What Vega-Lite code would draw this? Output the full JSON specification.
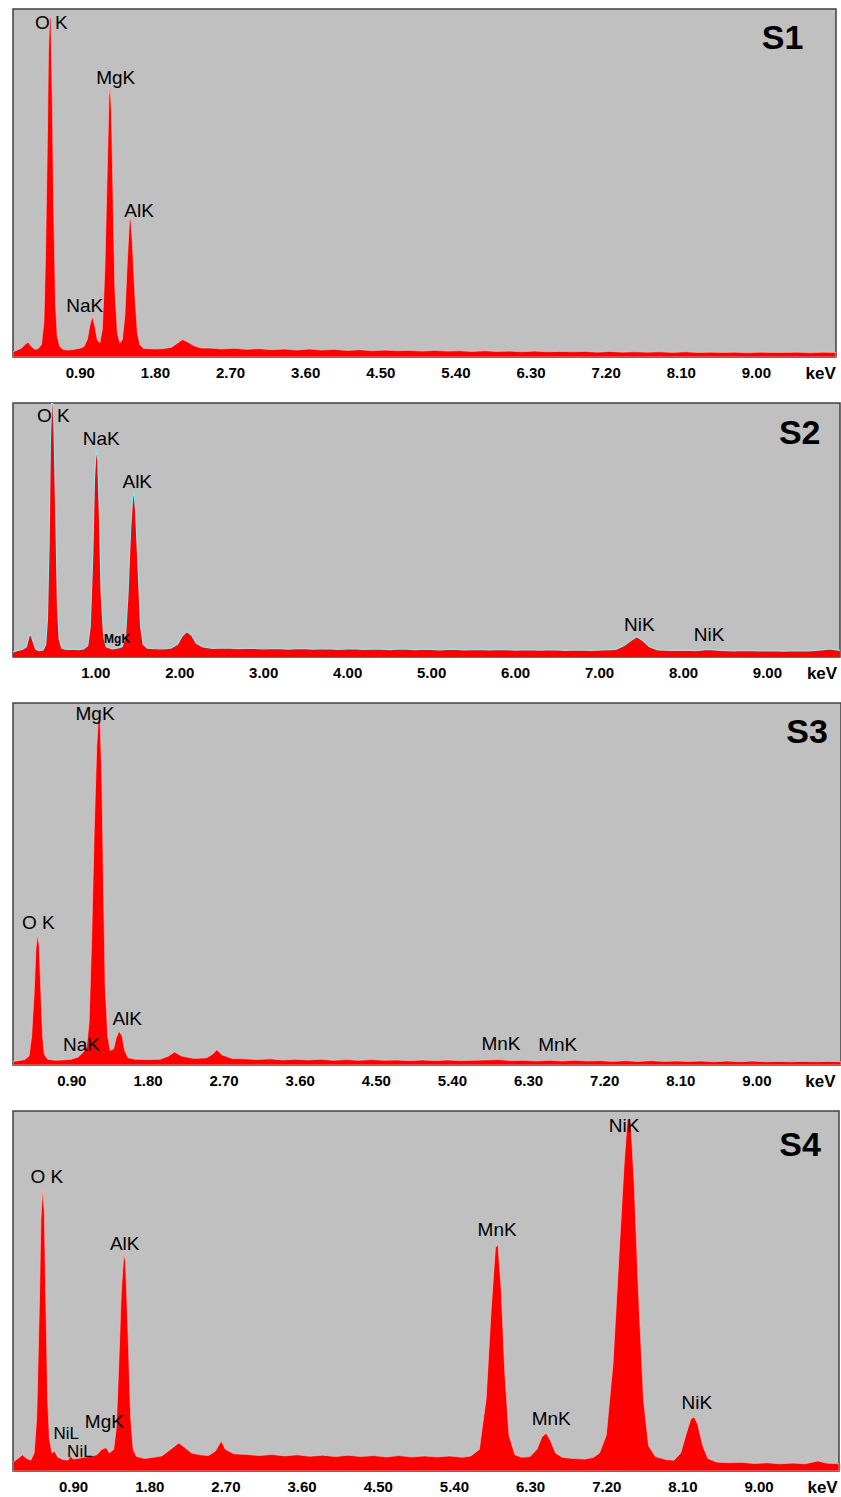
{
  "$schema": "https://vega.github.io/schema/vega-lite/v6.json",
  "background": "white",
  "padding": {"left": 12, "top": 8, "right": 0, "bottom": 0},
  "spacing": 20,
  "config": {
    "view": {"fill": "#c0c0c0", "stroke": "#404040", "strokeWidth": 1.5},
    "axis": {"labelFont": "Liberation Sans", "labelFontSize": 15, "labelFontWeight": "bold", "labelColor": "#000000", "ticks": false, "domain": false, "grid": false, "labelPadding": 8, "labelOverlap": false, "labelFlush": false, "title": null},
    "text": {"font": "Liberation Sans", "fontSize": 19, "color": "#000000", "align": "center", "baseline": "middle"}
  },
  "vconcat": [
    {
      "width": 823, "height": 348,
      "layer": [
        {
          "data": {"values": [
            {"keV":0.1,"counts":1.5},{"keV":0.15,"counts":2.0},{"keV":0.2,"counts":2.5},{"keV":0.24,"counts":3.5},{"keV":0.28,"counts":4.3},{"keV":0.32,"counts":3.0},{"keV":0.36,"counts":2.2},{"keV":0.4,"counts":2.4},{"keV":0.44,"counts":3.5},{"keV":0.47,"counts":10},{"keV":0.49,"counts":30},{"keV":0.51,"counts":60},{"keV":0.525,"counts":88},{"keV":0.54,"counts":98},{"keV":0.555,"counts":97},{"keV":0.57,"counts":75},{"keV":0.59,"counts":40},{"keV":0.61,"counts":15},{"keV":0.63,"counts":6},{"keV":0.66,"counts":3},{"keV":0.7,"counts":2.2},{"keV":0.75,"counts":2.0},{"keV":0.8,"counts":2.1},{"keV":0.85,"counts":2.3},{"keV":0.9,"counts":2.5},{"keV":0.95,"counts":3.0},{"keV":0.99,"counts":5},{"keV":1.02,"counts":9},{"keV":1.05,"counts":11.7},{"keV":1.08,"counts":9},{"keV":1.11,"counts":5},{"keV":1.14,"counts":4},{"keV":1.17,"counts":8},{"keV":1.2,"counts":25},{"keV":1.23,"counts":55},{"keV":1.25,"counts":75},{"keV":1.265,"counts":77.7},{"keV":1.28,"counts":70},{"keV":1.3,"counts":45},{"keV":1.32,"counts":20},{"keV":1.35,"counts":7},{"keV":1.38,"counts":4},{"keV":1.41,"counts":5},{"keV":1.44,"counts":12},{"keV":1.47,"counts":28},{"keV":1.495,"counts":39},{"keV":1.51,"counts":40},{"keV":1.53,"counts":33},{"keV":1.56,"counts":18},{"keV":1.59,"counts":7},{"keV":1.62,"counts":3.5},{"keV":1.66,"counts":2.5},{"keV":1.7,"counts":2.4},{"keV":1.8,"counts":2.3},{"keV":1.9,"counts":2.4},{"keV":2.0,"counts":2.8},{"keV":2.06,"counts":3.8},{"keV":2.13,"counts":5.0},{"keV":2.2,"counts":4.2},{"keV":2.27,"counts":3.2},{"keV":2.35,"counts":2.6},
            {"keV":2.45,"counts":2.6},{"keV":2.6,"counts":2.3},{"keV":2.75,"counts":2.5},{"keV":2.9,"counts":2.2},{"keV":3.05,"counts":2.4},{"keV":3.2,"counts":2.1},{"keV":3.35,"counts":2.3},{"keV":3.5,"counts":2.0},{"keV":3.65,"counts":2.3},{"keV":3.8,"counts":2.0},{"keV":3.95,"counts":2.2},{"keV":4.1,"counts":1.9},{"keV":4.25,"counts":2.1},{"keV":4.4,"counts":1.8},{"keV":4.55,"counts":2.0},{"keV":4.7,"counts":1.8},{"keV":4.85,"counts":1.9},{"keV":5.0,"counts":1.7},{"keV":5.15,"counts":1.9},{"keV":5.3,"counts":1.7},{"keV":5.45,"counts":1.8},{"keV":5.6,"counts":1.6},{"keV":5.75,"counts":1.8},{"keV":5.9,"counts":1.6},{"keV":6.05,"counts":1.7},{"keV":6.2,"counts":1.5},{"keV":6.35,"counts":1.7},{"keV":6.5,"counts":1.5},{"keV":6.65,"counts":1.6},{"keV":6.8,"counts":1.5},{"keV":6.95,"counts":1.6},{"keV":7.1,"counts":1.4},{"keV":7.25,"counts":1.6},{"keV":7.4,"counts":1.4},{"keV":7.55,"counts":1.5},{"keV":7.7,"counts":1.4},{"keV":7.85,"counts":1.5},{"keV":8.0,"counts":1.3},{"keV":8.15,"counts":1.5},{"keV":8.3,"counts":1.3},{"keV":8.45,"counts":1.4},{"keV":8.6,"counts":1.3},{"keV":8.75,"counts":1.4},{"keV":8.9,"counts":1.2},{"keV":9.05,"counts":1.4},{"keV":9.2,"counts":1.3},{"keV":9.35,"counts":1.3},{"keV":9.5,"counts":1.4},{"keV":9.65,"counts":1.2},{"keV":9.8,"counts":1.4},{"keV":9.96,"counts":1.3}
          ]},
          "mark": {"type": "area", "color": "#ff0000", "stroke": "#ffb8b8", "strokeWidth": 0.7, "clip": true},
          "encoding": {
            "x": {"field": "keV", "type": "quantitative", "scale": {"domain": [0.1, 9.96], "nice": false, "zero": false},
                  "axis": {"values": [0.9, 1.8, 2.7, 3.6, 4.5, 5.4, 6.3, 7.2, 8.1, 9.0, 9.77], "labelExpr": "datum.value > 9.5 ? 'keV' : format(datum.value, '.2f')", "labelFontSize": {"condition": {"test": "datum.value > 9.5", "value": 17}, "value": 15}}},
            "y": {"field": "counts", "type": "quantitative", "scale": {"domain": [0, 100]}, "axis": null}
          }
        },
        {
          "data": {"values": [
            {"keV":0.56,"counts":96,"label":"O K"},{"keV":1.33,"counts":80.3,"label":"MgK"},{"keV":1.61,"counts":42,"label":"AlK"},{"keV":0.96,"counts":14.6,"label":"NaK"}
          ]},
          "mark": {"type": "text"},
          "encoding": {"x": {"field": "keV", "type": "quantitative"}, "y": {"field": "counts", "type": "quantitative"}, "text": {"field": "label"}}
        },
        {
          "data": {"values": [{"keV": 9.32, "counts": 91.4, "label": "S1"}]},
          "mark": {"type": "text", "fontSize": 34, "fontWeight": "bold"},
          "encoding": {"x": {"field": "keV", "type": "quantitative"}, "y": {"field": "counts", "type": "quantitative"}, "text": {"field": "label"}}
        }
      ]
    },
    {
      "width": 827, "height": 254,
      "layer": [
        {
          "data": {"values": [
            {"keV":0.02,"counts":2.0},{"keV":0.08,"counts":2.6},{"keV":0.13,"counts":3.0},{"keV":0.18,"counts":4.0},{"keV":0.21,"counts":8},{"keV":0.23,"counts":9},{"keV":0.26,"counts":6},{"keV":0.29,"counts":3},{"keV":0.33,"counts":2.5},{"keV":0.38,"counts":2.8},{"keV":0.41,"counts":5},{"keV":0.43,"counts":15},{"keV":0.45,"counts":45},{"keV":0.465,"counts":85},{"keV":0.48,"counts":100},{"keV":0.495,"counts":100},{"keV":0.51,"counts":88},{"keV":0.53,"counts":55},{"keV":0.55,"counts":20},{"keV":0.57,"counts":7},{"keV":0.6,"counts":3.5},{"keV":0.65,"counts":3.0},{"keV":0.72,"counts":3.1},{"keV":0.8,"counts":2.9},{"keV":0.86,"counts":3.2},{"keV":0.91,"counts":4.5},{"keV":0.94,"counts":12},{"keV":0.97,"counts":40},{"keV":0.99,"counts":70},{"keV":1.01,"counts":81.7},{"keV":1.03,"counts":78},{"keV":1.05,"counts":55},{"keV":1.07,"counts":25},{"keV":1.1,"counts":8},{"keV":1.13,"counts":4},{"keV":1.2,"counts":3.2},{"keV":1.26,"counts":3.5},{"keV":1.32,"counts":4},{"keV":1.36,"counts":8},{"keV":1.39,"counts":25},{"keV":1.42,"counts":50},{"keV":1.445,"counts":63},{"keV":1.46,"counts":65},{"keV":1.48,"counts":58},{"keV":1.51,"counts":35},{"keV":1.54,"counts":12},{"keV":1.57,"counts":5},{"keV":1.62,"counts":3.5},{"keV":1.7,"counts":3.3},{"keV":1.8,"counts":3.2},{"keV":1.9,"counts":3.5},{"keV":1.98,"counts":5},{"keV":2.03,"counts":8},{"keV":2.09,"counts":10},{"keV":2.15,"counts":8.5},{"keV":2.2,"counts":5.5},{"keV":2.28,"counts":4.0},{"keV":2.4,"counts":3.4},
            {"keV":2.55,"counts":3.6},{"keV":2.7,"counts":3.3},{"keV":2.85,"counts":3.5},{"keV":3.0,"counts":3.2},{"keV":3.15,"counts":3.4},{"keV":3.3,"counts":3.1},{"keV":3.45,"counts":3.4},{"keV":3.6,"counts":3.1},{"keV":3.75,"counts":3.3},{"keV":3.9,"counts":3.0},{"keV":4.05,"counts":3.3},{"keV":4.2,"counts":3.0},{"keV":4.35,"counts":3.2},{"keV":4.5,"counts":2.9},{"keV":4.65,"counts":3.2},{"keV":4.8,"counts":2.9},{"keV":4.95,"counts":3.1},{"keV":5.1,"counts":2.8},{"keV":5.25,"counts":3.1},{"keV":5.4,"counts":2.8},{"keV":5.55,"counts":3.0},{"keV":5.7,"counts":2.8},{"keV":5.85,"counts":3.0},{"keV":6.0,"counts":2.7},{"keV":6.15,"counts":2.9},{"keV":6.3,"counts":2.7},{"keV":6.45,"counts":2.9},{"keV":6.6,"counts":2.6},{"keV":6.75,"counts":2.8},{"keV":6.9,"counts":2.6},{"keV":7.05,"counts":2.8},{"keV":7.2,"counts":3.0},{"keV":7.3,"counts":4.5},{"keV":7.38,"counts":6.5},{"keV":7.45,"counts":8.0},{"keV":7.52,"counts":6.5},{"keV":7.6,"counts":4.0},{"keV":7.7,"counts":2.8},{"keV":7.85,"counts":2.6},{"keV":8.0,"counts":2.7},{"keV":8.15,"counts":2.5},{"keV":8.3,"counts":3.0},{"keV":8.45,"counts":2.6},{"keV":8.6,"counts":2.4},{"keV":8.75,"counts":2.6},{"keV":8.9,"counts":2.4},{"keV":9.05,"counts":2.5},{"keV":9.2,"counts":2.3},{"keV":9.35,"counts":2.5},{"keV":9.5,"counts":2.4},{"keV":9.65,"counts":2.8},{"keV":9.75,"counts":3.2},{"keV":9.87,"counts":2.6}
          ]},
          "encoding": {
            "x": {"field": "keV", "type": "quantitative", "scale": {"domain": [0.02, 9.87], "nice": false, "zero": false},
                  "axis": {"values": [1, 2, 3, 4, 5, 6, 7, 8, 9, 9.65], "labelExpr": "datum.value > 9.5 ? 'keV' : format(datum.value, '.2f')", "labelFontSize": {"condition": {"test": "datum.value > 9.5", "value": 17}, "value": 15}}},
            "y": {"field": "counts", "type": "quantitative", "scale": {"domain": [0, 100]}, "axis": null}
          },
          "layer": [
            {"mark": {"type": "area", "color": "#ff0000", "clip": true}},
            {"mark": {"type": "line", "color": "#8fe6ee", "strokeWidth": 1.2, "clip": true}}
          ]
        },
        {
          "data": {"values": [
            {"keV":0.5,"counts":94.8,"label":"O K"},{"keV":1.07,"counts":85.7,"label":"NaK"},{"keV":1.5,"counts":69,"label":"AlK"},{"keV":7.48,"counts":12.7,"label":"NiK"},{"keV":8.31,"counts":8.8,"label":"NiK"}
          ]},
          "mark": {"type": "text"},
          "encoding": {"x": {"field": "keV", "type": "quantitative"}, "y": {"field": "counts", "type": "quantitative"}, "text": {"field": "label"}}
        },
        {
          "data": {"values": [{"keV": 1.26, "counts": 7.2, "label": "MgK"}]},
          "mark": {"type": "text", "fontSize": 12, "fontWeight": "bold"},
          "encoding": {"x": {"field": "keV", "type": "quantitative"}, "y": {"field": "counts", "type": "quantitative"}, "text": {"field": "label"}}
        },
        {
          "data": {"values": [{"keV": 9.39, "counts": 87.6, "label": "S2"}]},
          "mark": {"type": "text", "fontSize": 34, "fontWeight": "bold"},
          "encoding": {"x": {"field": "keV", "type": "quantitative"}, "y": {"field": "counts", "type": "quantitative"}, "text": {"field": "label"}}
        }
      ]
    },
    {
      "width": 828, "height": 362,
      "layer": [
        {
          "data": {"values": [
            {"keV":0.21,"counts":1.0},{"keV":0.28,"counts":1.2},{"keV":0.35,"counts":1.5},{"keV":0.4,"counts":2.5},{"keV":0.43,"counts":8},{"keV":0.46,"counts":20},{"keV":0.48,"counts":32},{"keV":0.5,"counts":36},{"keV":0.52,"counts":33},{"keV":0.54,"counts":20},{"keV":0.56,"counts":8},{"keV":0.58,"counts":3},{"keV":0.62,"counts":1.6},{"keV":0.7,"counts":1.3},{"keV":0.8,"counts":1.4},{"keV":0.9,"counts":1.6},{"keV":0.98,"counts":2.2},{"keV":1.04,"counts":3.5},{"keV":1.08,"counts":5},{"keV":1.11,"counts":12},{"keV":1.14,"counts":35},{"keV":1.17,"counts":65},{"keV":1.2,"counts":88},{"keV":1.22,"counts":96},{"keV":1.24,"counts":95},{"keV":1.26,"counts":80},{"keV":1.28,"counts":50},{"keV":1.3,"counts":22},{"keV":1.33,"counts":8},{"keV":1.36,"counts":4},{"keV":1.4,"counts":4.5},{"keV":1.43,"counts":7.5},{"keV":1.465,"counts":9.4},{"keV":1.5,"counts":8},{"keV":1.53,"counts":4},{"keV":1.57,"counts":2},{"keV":1.65,"counts":1.6},{"keV":1.8,"counts":1.5},{"keV":1.95,"counts":1.6},{"keV":2.05,"counts":2.5},{"keV":2.12,"counts":3.6},{"keV":2.2,"counts":2.5},{"keV":2.35,"counts":1.8},{"keV":2.5,"counts":2.0},{"keV":2.57,"counts":3.0},{"keV":2.62,"counts":4.2},{"keV":2.68,"counts":2.8},{"keV":2.8,"counts":1.8},
            {"keV":2.95,"counts":1.7},{"keV":3.1,"counts":1.5},{"keV":3.25,"counts":1.7},{"keV":3.4,"counts":1.4},{"keV":3.55,"counts":1.6},{"keV":3.7,"counts":1.4},{"keV":3.85,"counts":1.6},{"keV":4.0,"counts":1.3},{"keV":4.15,"counts":1.5},{"keV":4.3,"counts":1.3},{"keV":4.45,"counts":1.5},{"keV":4.6,"counts":1.3},{"keV":4.75,"counts":1.4},{"keV":4.9,"counts":1.2},{"keV":5.05,"counts":1.4},{"keV":5.2,"counts":1.2},{"keV":5.35,"counts":1.4},{"keV":5.5,"counts":1.2},{"keV":5.65,"counts":1.3},{"keV":5.8,"counts":1.4},{"keV":5.95,"counts":1.5},{"keV":6.1,"counts":1.2},{"keV":6.25,"counts":1.3},{"keV":6.4,"counts":1.1},{"keV":6.55,"counts":1.3},{"keV":6.7,"counts":1.1},{"keV":6.85,"counts":1.3},{"keV":7.0,"counts":1.1},{"keV":7.15,"counts":1.2},{"keV":7.3,"counts":1.0},{"keV":7.45,"counts":1.2},{"keV":7.6,"counts":1.0},{"keV":7.75,"counts":1.2},{"keV":7.9,"counts":1.0},{"keV":8.05,"counts":1.1},{"keV":8.2,"counts":1.0},{"keV":8.35,"counts":1.1},{"keV":8.5,"counts":0.9},{"keV":8.65,"counts":1.1},{"keV":8.8,"counts":0.9},{"keV":8.95,"counts":1.1},{"keV":9.1,"counts":0.9},{"keV":9.25,"counts":1.0},{"keV":9.4,"counts":0.9},{"keV":9.55,"counts":1.0},{"keV":9.7,"counts":0.9},{"keV":9.85,"counts":1.0},{"keV":10.0,"counts":0.9}
          ]},
          "mark": {"type": "area", "color": "#ff0000", "stroke": "#ffb8b8", "strokeWidth": 0.7, "clip": true},
          "encoding": {
            "x": {"field": "keV", "type": "quantitative", "scale": {"domain": [0.21, 10.0], "nice": false, "zero": false},
                  "axis": {"values": [0.9, 1.8, 2.7, 3.6, 4.5, 5.4, 6.3, 7.2, 8.1, 9.0, 9.75], "labelExpr": "datum.value > 9.5 ? 'keV' : format(datum.value, '.2f')", "labelFontSize": {"condition": {"test": "datum.value > 9.5", "value": 17}, "value": 15}}},
            "y": {"field": "counts", "type": "quantitative", "scale": {"domain": [0, 100]}, "axis": null}
          }
        },
        {
          "data": {"values": [
            {"keV":1.18,"counts":97,"label":"MgK"},{"keV":0.51,"counts":39.2,"label":"O K"},{"keV":1.56,"counts":12.8,"label":"AlK"},{"keV":1.02,"counts":5.5,"label":"NaK"},{"keV":5.98,"counts":5.8,"label":"MnK"},{"keV":6.65,"counts":5.5,"label":"MnK"}
          ]},
          "mark": {"type": "text"},
          "encoding": {"x": {"field": "keV", "type": "quantitative"}, "y": {"field": "counts", "type": "quantitative"}, "text": {"field": "label"}}
        },
        {
          "data": {"values": [{"keV": 9.6, "counts": 91.7, "label": "S3"}]},
          "mark": {"type": "text", "fontSize": 34, "fontWeight": "bold"},
          "encoding": {"x": {"field": "keV", "type": "quantitative"}, "y": {"field": "counts", "type": "quantitative"}, "text": {"field": "label"}}
        }
      ]
    },
    {
      "width": 826, "height": 360,
      "layer": [
        {
          "data": {"values": [
            {"keV":0.19,"counts":2.5},{"keV":0.25,"counts":3.5},{"keV":0.3,"counts":4.5},{"keV":0.35,"counts":3.5},{"keV":0.4,"counts":3.0},{"keV":0.44,"counts":5},{"keV":0.47,"counts":15},{"keV":0.5,"counts":45},{"keV":0.52,"counts":70},{"keV":0.54,"counts":78.6},{"keV":0.56,"counts":72},{"keV":0.58,"counts":45},{"keV":0.6,"counts":20},{"keV":0.62,"counts":9},{"keV":0.65,"counts":5},{"keV":0.68,"counts":5.5},{"keV":0.72,"counts":3.8},{"keV":0.78,"counts":3.2},{"keV":0.84,"counts":3.0},{"keV":0.87,"counts":4.2},{"keV":0.9,"counts":3.3},{"keV":0.96,"counts":3.5},{"keV":1.02,"counts":3.8},{"keV":1.1,"counts":4.0},{"keV":1.18,"counts":4.5},{"keV":1.24,"counts":6},{"keV":1.29,"counts":6.5},{"keV":1.33,"counts":5},{"keV":1.38,"counts":6},{"keV":1.41,"counts":12},{"keV":1.44,"counts":30},{"keV":1.47,"counts":50},{"keV":1.5,"counts":60.5},{"keV":1.52,"counts":58},{"keV":1.55,"counts":38},{"keV":1.58,"counts":15},{"keV":1.61,"counts":6},{"keV":1.65,"counts":4},{"keV":1.75,"counts":3.5},{"keV":1.85,"counts":3.8},{"keV":1.95,"counts":4.2},{"keV":2.05,"counts":6},{"keV":2.15,"counts":7.8},{"keV":2.22,"counts":6.5},{"keV":2.3,"counts":5},{"keV":2.4,"counts":4.5},{"keV":2.5,"counts":4.3},{"keV":2.58,"counts":5.5},{"keV":2.65,"counts":8.3},{"keV":2.7,"counts":6},{"keV":2.8,"counts":4.8},
            {"keV":2.95,"counts":4.6},{"keV":3.1,"counts":4.3},{"keV":3.25,"counts":4.6},{"keV":3.4,"counts":4.2},{"keV":3.55,"counts":4.5},{"keV":3.7,"counts":4.1},{"keV":3.85,"counts":4.4},{"keV":4.0,"counts":4.0},{"keV":4.15,"counts":4.4},{"keV":4.3,"counts":4.0},{"keV":4.45,"counts":4.3},{"keV":4.6,"counts":3.9},{"keV":4.75,"counts":4.3},{"keV":4.9,"counts":3.9},{"keV":5.05,"counts":4.2},{"keV":5.2,"counts":3.9},{"keV":5.35,"counts":4.2},{"keV":5.5,"counts":3.8},{"keV":5.6,"counts":4.2},{"keV":5.7,"counts":6},{"keV":5.78,"counts":20},{"keV":5.84,"counts":45},{"keV":5.89,"counts":62},{"keV":5.92,"counts":63},{"keV":5.96,"counts":50},{"keV":6.0,"counts":28},{"keV":6.05,"counts":10},{"keV":6.12,"counts":4.5},{"keV":6.2,"counts":3.8},{"keV":6.3,"counts":4.0},{"keV":6.38,"counts":6},{"keV":6.44,"counts":9.5},{"keV":6.49,"counts":10.5},{"keV":6.54,"counts":8.5},{"keV":6.6,"counts":5},{"keV":6.68,"counts":3.8},{"keV":6.8,"counts":3.5},{"keV":6.95,"counts":3.3},{"keV":7.05,"counts":3.8},{"keV":7.12,"counts":5},{"keV":7.2,"counts":10},{"keV":7.28,"counts":30},{"keV":7.35,"counts":60},{"keV":7.41,"counts":85},{"keV":7.45,"counts":98},{"keV":7.49,"counts":97},{"keV":7.53,"counts":80},{"keV":7.58,"counts":50},{"keV":7.64,"counts":20},{"keV":7.7,"counts":7},{"keV":7.78,"counts":4},{"keV":7.9,"counts":3.2},{"keV":8.0,"counts":3.0},{"keV":8.08,"counts":5},{"keV":8.14,"counts":10},{"keV":8.2,"counts":14.5},{"keV":8.24,"counts":15},{"keV":8.28,"counts":13},{"keV":8.34,"counts":7},{"keV":8.4,"counts":3.5},{"keV":8.5,"counts":2.5},{"keV":8.65,"counts":2.3},{"keV":8.8,"counts":2.4},{"keV":8.95,"counts":2.1},{"keV":9.1,"counts":2.3},{"keV":9.25,"counts":2.0},{"keV":9.4,"counts":2.2},{"keV":9.55,"counts":2.0},{"keV":9.7,"counts":2.8},{"keV":9.8,"counts":2.2},{"keV":9.95,"counts":2.0}
          ]},
          "mark": {"type": "area", "color": "#ff0000", "stroke": "#ffb8b8", "strokeWidth": 0.7, "clip": true},
          "encoding": {
            "x": {"field": "keV", "type": "quantitative", "scale": {"domain": [0.19, 9.95], "nice": false, "zero": false},
                  "axis": {"values": [0.9, 1.8, 2.7, 3.6, 4.5, 5.4, 6.3, 7.2, 8.1, 9.0, 9.75], "labelExpr": "datum.value > 9.5 ? 'keV' : format(datum.value, '.2f')", "labelFontSize": {"condition": {"test": "datum.value > 9.5", "value": 17}, "value": 15}}},
            "y": {"field": "counts", "type": "quantitative", "scale": {"domain": [0, 100]}, "axis": null}
          }
        },
        {
          "data": {"values": [
            {"keV":0.59,"counts":81.7,"label":"O K"},{"keV":1.51,"counts":63,"label":"AlK"},{"keV":1.27,"counts":13.6,"label":"MgK"},{"keV":5.91,"counts":67,"label":"MnK"},{"keV":6.55,"counts":14.4,"label":"MnK"},{"keV":7.41,"counts":95.8,"label":"NiK"},{"keV":8.27,"counts":18.9,"label":"NiK"}
          ]},
          "mark": {"type": "text"},
          "encoding": {"x": {"field": "keV", "type": "quantitative"}, "y": {"field": "counts", "type": "quantitative"}, "text": {"field": "label"}}
        },
        {
          "data": {"values": [
            {"keV":0.82,"counts":10.3,"label":"NiL"},{"keV":0.98,"counts":5.4,"label":"NiL"}
          ]},
          "mark": {"type": "text", "fontSize": 17},
          "encoding": {"x": {"field": "keV", "type": "quantitative"}, "y": {"field": "counts", "type": "quantitative"}, "text": {"field": "label"}}
        },
        {
          "data": {"values": [{"keV": 9.49, "counts": 90.3, "label": "S4"}]},
          "mark": {"type": "text", "fontSize": 34, "fontWeight": "bold"},
          "encoding": {"x": {"field": "keV", "type": "quantitative"}, "y": {"field": "counts", "type": "quantitative"}, "text": {"field": "label"}}
        }
      ]
    }
  ]
}
